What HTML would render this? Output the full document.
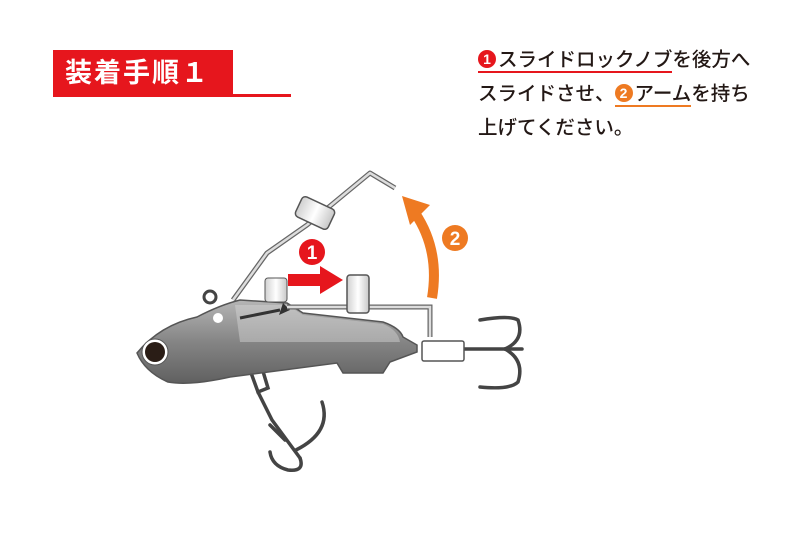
<!DOCTYPE html>
<html><head><meta charset="utf-8"><style>
body{margin:0;width:800px;height:533px;background:#fff;position:relative;overflow:hidden;font-family:"Liberation Sans","Noto Sans CJK JP",sans-serif;}
.title{position:absolute;left:53px;top:50px;width:180px;height:47px;background:#e6161d;color:#fff;font-size:27px;font-weight:bold;line-height:47px;padding-left:12px;box-sizing:border-box;letter-spacing:2px}
.ul{position:absolute;left:233px;top:94px;width:58px;height:3px;background:#e6161d}
.txt{position:absolute;left:478px;top:43px;font-size:19.5px;color:#231815;line-height:34px;white-space:nowrap;font-weight:500}
.c{display:inline-block;width:18px;height:18px;border-radius:50%;color:#fff;font-size:14px;font-weight:bold;text-align:center;line-height:18px;vertical-align:2px;margin-right:2px}
.r{border-bottom:2px solid #e6161d}.o{border-bottom:2px solid #ee7a22}
</style></head><body>
<div class="title">装着手順１</div><div class="ul"></div>
<div class="txt"><span class="r"><span class="c" style="background:#e6161d">1</span>スライドロックノブ</span>を後方へ<br>スライドさせ、<span class="o"><span class="c" style="background:#ee7a22">2</span>アーム</span>を持ち<br>上げてください。</div>
<svg width="800" height="533" style="position:absolute;left:0;top:0">
<defs><linearGradient id="g" x1="0" y1="0" x2="0" y2="1"><stop offset="0" stop-color="#b5b5b5"/><stop offset="0.5" stop-color="#858585"/><stop offset="1" stop-color="#606060"/></linearGradient>
<linearGradient id="k" x1="0" y1="0" x2="1" y2="0"><stop offset="0" stop-color="#d0d0d0"/><stop offset="0.5" stop-color="#fff"/><stop offset="1" stop-color="#c8c8c8"/></linearGradient></defs>
<!-- arm wire -->
<polyline points="233,300 267,253 307,225 370,173 395,188" fill="none" stroke="#666" stroke-width="5" stroke-linejoin="round"/>
<polyline points="233,300 267,253 307,225 370,173 395,188" fill="none" stroke="#ddd" stroke-width="2.5" stroke-linejoin="round"/>
<g transform="translate(315,213) rotate(25)"><rect x="-18" y="-11" width="36" height="22" rx="4" fill="url(#k)" stroke="#555" stroke-width="1.5"/></g>
<!-- belly hook -->
<g fill="none" stroke="#444" stroke-width="3.5" stroke-linecap="round">
<path d="M250,370 L258,392 L268,388 L262,368"/>
<path d="M258,392 L272,420 L300,458"/>
<path d="M300,458 Q305,472 288,470 Q272,466 270,452"/>
<path d="M296,450 Q332,432 322,402"/>
<path d="M285,440 L270,425"/>
</g>
<!-- eye ring -->
<circle cx="210" cy="297" r="6" fill="none" stroke="#444" stroke-width="3"/>
<!-- body -->
<path d="M137,353 Q160,325 197,317 Q220,305 240,300 L287,303 L303,313 L383,322 Q400,328 403,337 L417,345 L417,352 L390,362 L383,373 L343,373 L337,363 L230,377 Q190,386 168,382 Q145,372 137,353Z" fill="url(#g)" stroke="#555" stroke-width="1.5"/>
<path d="M235,305 L287,305 L303,315 L383,324 Q398,330 400,342 L240,342 Z" fill="#d8d8d8" opacity="0.45"/>
<circle cx="218" cy="318" r="5" fill="#fff"/>
<line x1="240" y1="318" x2="280" y2="310" stroke="#333" stroke-width="3"/>
<polygon points="283,303 290,310 279,315" fill="#333"/>
<circle cx="155" cy="352" r="13" fill="#fff" stroke="#555"/><circle cx="155" cy="352" r="10" fill="#2a1d16"/>
<!-- knobs and horizontal wire -->
<rect x="265" y="278" width="22" height="24" rx="3" fill="url(#k)" stroke="#555"/>
<polyline points="287,307 430,307 430,337" fill="none" stroke="#666" stroke-width="5"/>
<polyline points="287,307 430,307 430,337" fill="none" stroke="#ddd" stroke-width="2.5"/>
<rect x="347" y="275" width="22" height="38" rx="3" fill="url(#k)" stroke="#555" stroke-width="1.5"/>
<!-- rear hook -->
<g fill="none" stroke="#444" stroke-width="3.5" stroke-linecap="round">
<line x1="460" y1="349" x2="522" y2="349"/>
<path d="M505,349 Q525,340 518,320 Q510,315 480,320"/>
<path d="M505,349 Q525,360 518,382 Q510,390 480,387"/>
</g>
<rect x="422" y="341" width="42" height="20" rx="2" fill="#fff" stroke="#555" stroke-width="1.5"/>
<!-- red arrow -->
<polygon points="288,274 320,274 320,266 343,280 320,294 320,286 288,286" fill="#e6161d"/>
<circle cx="312" cy="252" r="13" fill="#e6161d"/><text x="312" y="259" font-size="19" font-weight="bold" fill="#fff" text-anchor="middle" font-family="Liberation Sans">1</text>
<!-- orange arc -->
<path d="M432,298 Q440,250 415,213" fill="none" stroke="#ee7a22" stroke-width="10"/>
<polygon points="402,196 430,205 410,225" fill="#ee7a22"/>
<circle cx="455" cy="238" r="13" fill="#ee7a22"/><text x="455" y="245" font-size="19" font-weight="bold" fill="#fff" text-anchor="middle" font-family="Liberation Sans">2</text>
</svg>
</body></html>
